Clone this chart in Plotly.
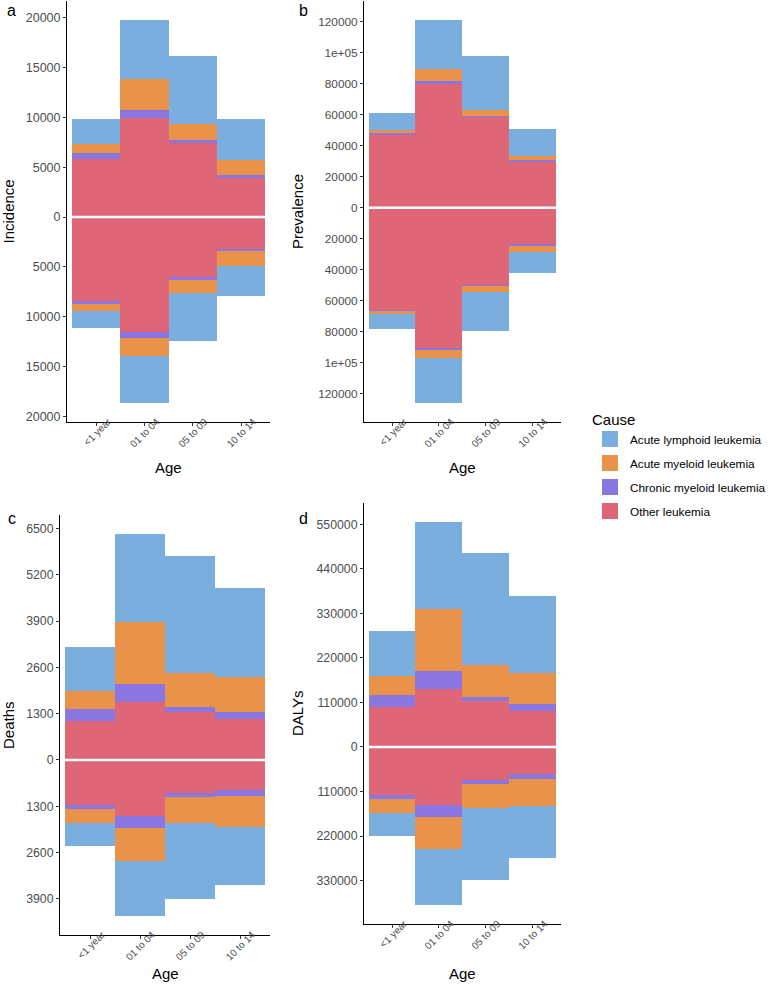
import plotly.graph_objects as go

# ---------------- data ----------------
ages = ["<1 year", "01 to 04", "05 to 09", "10 to 14"]
causes = ["Acute lymphoid leukemia", "Acute myeloid leukemia",
          "Chronic myeloid leukemia", "Other leukemia"]
cause_colors = ["#7AAEDE", "#E8924A", "#8A76E0", "#DE6677"]

# Incidence (upper half / lower half of the mirrored chart)
inc_up_all = [2515, 5930, 6900, 4190]
inc_up_aml = [905, 3050, 1610, 1510]
inc_up_cml = [600, 800, 235, 300]
inc_up_oth = [5870, 9990, 7475, 3890]
inc_lo_all = [1675, 4685, 4825, 3020]
inc_lo_aml = [740, 1845, 1340, 1470]
inc_lo_cml = [200, 635, 265, 270]
inc_lo_oth = [8505, 11490, 6030, 3180]

# Prevalence
prev_up_all = [11220, 31810, 34640, 17420]
prev_up_aml = [1700, 7550, 3430, 2580]
prev_up_cml = [1140, 1490, 640, 1290]
prev_up_oth = [47230, 80000, 58710, 29680]
prev_lo_all = [9230, 28770, 25360, 13800]
prev_lo_aml = [1940, 5400, 3670, 3420]
prev_lo_cml = [640, 1510, 650, 1100]
prev_lo_oth = [66260, 90130, 50130, 23870]

# Deaths
dth_up_all = [1243, 2460, 3301, 2477]
dth_up_aml = [513, 1757, 954, 982]
dth_up_cml = [328, 505, 131, 215]
dth_up_oth = [1094, 1618, 1346, 1141]
dth_lo_all = [645, 1551, 2131, 1636]
dth_lo_aml = [383, 908, 730, 870]
dth_lo_cml = [103, 356, 112, 158]
dth_lo_oth = [1272, 1561, 935, 842]

# DALYs
daly_up_all = [111330, 214250, 275360, 191240]
daly_up_aml = [47010, 153390, 78430, 75950]
daly_up_cml = [29690, 44540, 10640, 17330]
daly_up_oth = [97970, 143490, 113800, 89800]
daly_lo_all = [58630, 137810, 178120, 127670]
daly_lo_aml = [34630, 79170, 60120, 67780]
daly_lo_cml = [9160, 30430, 9900, 12370]
daly_lo_oth = [118750, 142750, 80900, 66800]

# tick values / labels
inc_ticks = [-20000, -15000, -10000, -5000, 0, 5000, 10000, 15000, 20000]
inc_labels = ["20000", "15000", "10000", "5000", "0", "5000", "10000", "15000", "20000"]
prev_ticks = [-120000, -100000, -80000, -60000, -40000, -20000, 0,
              20000, 40000, 60000, 80000, 100000, 120000]
prev_labels = ["120000", "1e+05", "80000", "60000", "40000", "20000", "0",
               "20000", "40000", "60000", "80000", "1e+05", "120000"]
dth_ticks = [-3900, -2600, -1300, 0, 1300, 2600, 3900, 5200, 6500]
dth_labels = ["3900", "2600", "1300", "0", "1300", "2600", "3900", "5200", "6500"]
daly_ticks = [-330000, -220000, -110000, 0, 110000, 220000, 330000, 440000, 550000]
daly_labels = ["330000", "220000", "110000", "0", "110000", "220000",
               "330000", "440000", "550000"]

# ---------------- figure ----------------
W, H = 770, 991
fig = go.Figure()

panels = [
    dict(xa="x", ya="y", up=[inc_up_oth, inc_up_cml, inc_up_aml, inc_up_all],
         lo=[inc_lo_oth, inc_lo_cml, inc_lo_aml, inc_lo_all],
         ticks=inc_ticks, labels=inc_labels, title="Incidence", letter="a",
         px=(67, 270), py=(1, 422), tfs=12.5, tx=8),
    dict(xa="x2", ya="y2", up=[prev_up_oth, prev_up_cml, prev_up_aml, prev_up_all],
         lo=[prev_lo_oth, prev_lo_cml, prev_lo_aml, prev_lo_all],
         ticks=prev_ticks, labels=prev_labels, title="Prevalence", letter="b",
         px=(364, 560.6), py=(1, 422), tfs=11.8, tx=297.5),
    dict(xa="x3", ya="y3", up=[dth_up_oth, dth_up_cml, dth_up_aml, dth_up_all],
         lo=[dth_lo_oth, dth_lo_cml, dth_lo_aml, dth_lo_all],
         ticks=dth_ticks, labels=dth_labels, title="Deaths", letter="c",
         px=(60, 270), py=(515, 935), tfs=12.3, tx=8),
    dict(xa="x4", ya="y4", up=[daly_up_oth, daly_up_cml, daly_up_aml, daly_up_all],
         lo=[daly_lo_oth, daly_lo_cml, daly_lo_aml, daly_lo_all],
         ticks=daly_ticks, labels=daly_labels, title="DALYs", letter="d",
         px=(364, 560.6), py=(503, 924), tfs=12.3, tx=297.5),
]

# stacking order from zero outward: Other, CML, AML, ALL
stack_idx = [3, 2, 1, 0]

annotations = []
shapes = []
for p in panels:
    for k, ci in enumerate(stack_idx):
        fig.add_trace(go.Bar(x=ages, y=p["up"][k], xaxis=p["xa"], yaxis=p["ya"],
                             marker=dict(color=cause_colors[ci], line=dict(width=0)),
                             name=causes[ci], showlegend=False))
        fig.add_trace(go.Bar(x=ages, y=[-v for v in p["lo"][k]], xaxis=p["xa"], yaxis=p["ya"],
                             marker=dict(color=cause_colors[ci], line=dict(width=0)),
                             name=causes[ci], showlegend=False))
    ups = [sum(v) for v in zip(*p["up"])]
    los = [sum(v) for v in zip(*p["lo"])]
    hi, lo = max(ups), -max(los)
    pad = 0.05 * (hi - lo)
    p["range"] = [lo - pad, hi + pad]

# legend entries (order as in reference)
for ci, c in enumerate(causes):
    fig.add_trace(go.Scatter(x=[None], y=[None], mode="markers", name=c,
                             legendgroup=c,
                             marker=dict(symbol="square", size=22, color=cause_colors[ci]),
                             xaxis="x", yaxis="y", showlegend=True))

axis_common = dict(showgrid=False, zeroline=False, showline=True, linecolor="black",
                   linewidth=1, ticks="outside", ticklen=3, tickcolor="#333333",
                   tickwidth=1, automargin=False)

layout = dict(width=W, height=H, margin=dict(l=0, r=0, t=0, b=0, autoexpand=False),
              plot_bgcolor="white", paper_bgcolor="white",
              barmode="relative", bargap=0,
              font=dict(family="Liberation Sans, Arial, sans-serif", color="black"),
              showlegend=True,
              legend=dict(x=590 / W, y=1 - 405 / H, xanchor="left", yanchor="top",
                          title=dict(text="Cause", font=dict(size=15)),
                          font=dict(size=11.8), itemsizing="trace",
                          tracegroupgap=5, bgcolor="rgba(0,0,0,0)"))

for i, p in enumerate(panels):
    sfx = "" if i == 0 else str(i + 1)
    x0, x1 = p["px"]
    y0, y1 = p["py"]
    layout["xaxis" + sfx] = dict(axis_common, domain=[x0 / W, x1 / W],
                                 anchor=p["ya"], type="category",
                                 range=[-0.6, 3.6], tickangle=-45,
                                 tickfont=dict(size=10, color="#4D4D4D"),
                                 ticklabelshift=12, ticklabelstandoff=-14)
    layout["yaxis" + sfx] = dict(axis_common, domain=[1 - y1 / H, 1 - y0 / H],
                                 anchor=p["xa"], range=p["range"],
                                 tickvals=p["ticks"], ticktext=p["labels"],
                                 tickfont=dict(size=p["tfs"], color="#4D4D4D"))
    # zero line (white)
    shapes.append(dict(type="line", xref=p["xa"] + " domain", yref=p["ya"],
                       x0=0, x1=1, y0=0, y1=0, layer="above",
                       line=dict(color="white", width=2.5)))
    # y title
    annotations.append(dict(text=p["title"], xref="paper", yref="paper",
                            x=p["tx"] / W, y=1 - ((y0 + y1) / 2) / H,
                            textangle=-90, showarrow=False, font=dict(size=15),
                            xanchor="center", yanchor="middle"))
    # x title
    ty = 467 if i < 2 else 973
    annotations.append(dict(text="Age", xref="paper", yref="paper",
                            x=((x0 + x1) / 2) / W, y=1 - ty / H, showarrow=False,
                            font=dict(size=15), xanchor="center", yanchor="middle"))
    # panel letter
    lx = 11.5 if i in (0, 2) else 303
    ly = 11 if i < 2 else 518
    annotations.append(dict(text=p["letter"], xref="paper", yref="paper",
                            x=lx / W, y=1 - ly / H, showarrow=False,
                            font=dict(size=16), xanchor="center", yanchor="middle"))

layout["annotations"] = annotations
layout["shapes"] = shapes
fig.update_layout(**layout)
fig.write_html("out.html",
               config={"displayModeBar": False},
               post_script="document.body.style.margin='0';"
                           "document.body.style.overflow='hidden';")
